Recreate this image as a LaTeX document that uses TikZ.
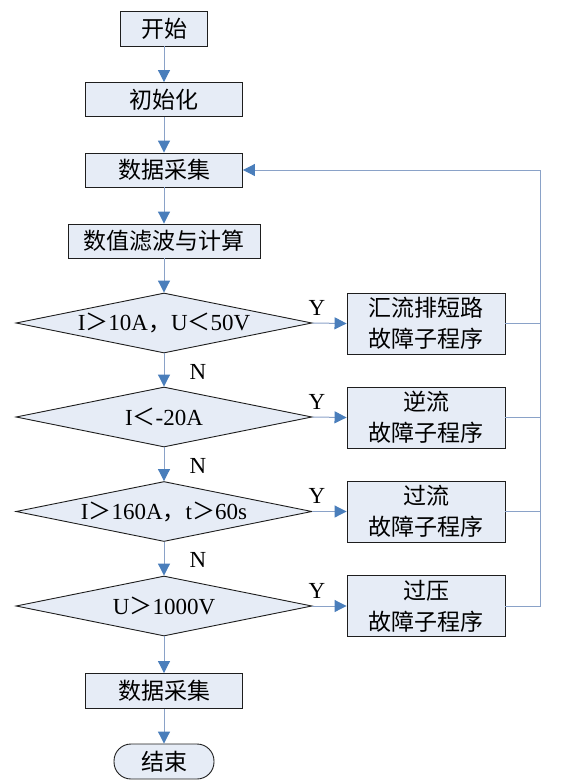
\documentclass[tikz,border=0pt]{standalone}
\usepackage{fontspec}
\setmainfont{Liberation Serif}
\newfontfamily\cjk{Noto Sans CJK SC}
\usepackage{xcolor}
\definecolor{chart-fill}{HTML}{E6ECF6}
\definecolor{chart-edge}{HTML}{1E1E1E}
\definecolor{chart-line}{HTML}{8AA2C8}
\definecolor{chart-tip}{HTML}{4A7EBB}
\usepackage{tikz}
\usetikzlibrary{shapes.geometric,arrows.meta}

\tikzset{
    block/.style={draw=chart-edge, fill=chart-fill, line width=0.9pt, inner sep=0pt, align=center, font=\cjk\fontsize{23}{31}\selectfont},
    test/.style={diamond, aspect=4.93, draw=chart-edge, fill=chart-fill, line width=0.9pt, inner sep=0pt, minimum width=296pt, minimum height=60pt, font=\fontsize{23}{28}\selectfont},
    flow/.style={draw=chart-line, line width=1pt, -{Triangle[length=12pt,width=12pt,color=chart-tip]}},
    link/.style={draw=chart-line, line width=1pt},
    answer/.style={anchor=base, inner sep=0pt, font=\fontsize{23}{28}\selectfont}
}

\begin{document}
\begin{tikzpicture}[x=1pt, y=-1pt]

    % Canvas
    \useasboundingbox (0, 0) rectangle (586, 782);

    % Main column
    \node[block, minimum width=87pt, minimum height=35pt] (start) at (164, 28.5) {开始};
    \node[block, minimum width=157pt, minimum height=34pt] (init) at (164, 99.5) {初始化};
    \node[block, minimum width=157pt, minimum height=34pt] (collect) at (164, 170) {数据采集};
    \node[block, minimum width=192pt, minimum height=34pt] (filter) at (164, 241) {数值滤波与计算};

    % Tests
    \node[test] (short) at (164, 323) {I{\cjk ＞}10A{\cjk ，}U{\cjk ＜}50V};
    \node[test] (reverse) at (164, 417) {I{\cjk ＜}-20A};
    \node[test] (over) at (164, 511.5) {I{\cjk ＞}160A{\cjk ，}t{\cjk ＞}60s};
    \node[test] (volt) at (164, 606) {U{\cjk ＞}1000V};

    % Fault routines
    \node[block, minimum width=158pt, minimum height=61pt] (shortfault) at (426, 323.5) {汇流排短路\\故障子程序};
    \node[block, minimum width=158pt, minimum height=61pt] (reversefault) at (426, 417.5) {逆流\\故障子程序};
    \node[block, minimum width=158pt, minimum height=61pt] (overfault) at (426, 511.5) {过流\\故障子程序};
    \node[block, minimum width=158pt, minimum height=61pt] (voltfault) at (426, 606) {过压\\故障子程序};

    % End
    \node[block, minimum width=157pt, minimum height=35pt] (collectend) at (164, 691) {数据采集};
    \node[block, rounded corners=17pt, minimum width=100pt, minimum height=35pt] (stop) at (164, 761.5) {结束};

    % Down arrows
    \draw[flow] (start) -- (init);
    \draw[flow] (init) -- (collect);
    \draw[flow] (collect) -- (filter);
    \draw[flow] (filter) -- (short);
    \draw[flow] (short) -- (reverse);
    \draw[flow] (reverse) -- (over);
    \draw[flow] (over) -- (volt);
    \draw[flow] (volt) -- (collectend);
    \draw[flow] (collectend) -- (stop);

    % Yes arrows
    \draw[flow] (short.east) -- (shortfault.west);
    \draw[flow] (reverse.east) -- (reversefault.west);
    \draw[flow] (over.east) -- (overfault.west);
    \draw[flow] (volt.east) -- (voltfault.west);

    % Return line
    \coordinate (back) at (540, 170);
    \draw[link] (shortfault.east) -- (shortfault.east -| back);
    \draw[link] (reversefault.east) -- (reversefault.east -| back);
    \draw[link] (overfault.east) -- (overfault.east -| back);
    \draw[flow] (voltfault.east) -| (back) -- (collect.east);

    % Y and N
    \node[answer] (yes1) at ([xshift=4.5pt, yshift=8pt]short.east) {Y};
    \node[answer] (yes2) at ([xshift=4.5pt, yshift=8pt]reverse.east) {Y};
    \node[answer] (yes3) at ([xshift=4.5pt, yshift=8pt]over.east) {Y};
    \node[answer] (yes4) at ([xshift=4.5pt, yshift=8pt]volt.east) {Y};
    \node[answer] (no1) at ([xshift=34pt, yshift=-26pt]short.south) {N};
    \node[answer] (no2) at ([xshift=34pt, yshift=-26pt]reverse.south) {N};
    \node[answer] (no3) at ([xshift=34pt, yshift=-26pt]over.south) {N};

\end{tikzpicture}
\end{document}
